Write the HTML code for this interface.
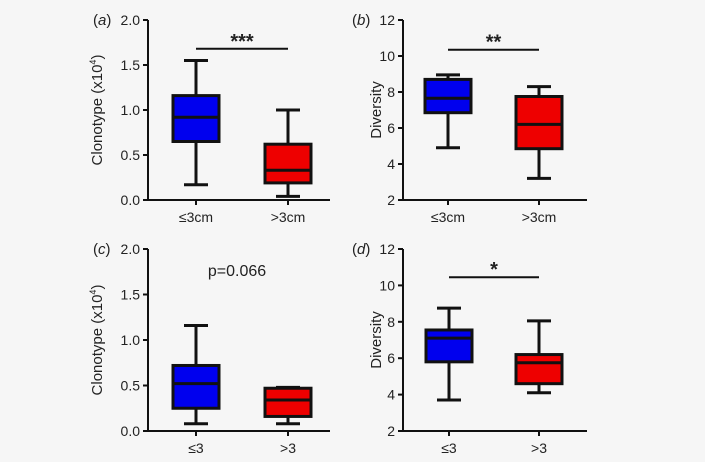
<!DOCTYPE html>
<html><head><meta charset="utf-8"><style>
body{margin:0;background:#f6f6f6;}
svg{display:block;font-family:"Liberation Sans",sans-serif;}
</style></head><body>
<svg id="c" width="705" height="462"></svg>
<script>
const panelLetters=["a","b","c","d"];
const groupLabels=[["≤3cm",">3cm"],["≤3cm",">3cm"],["≤3",">3"],["≤3",">3"]];
const yTicksClono=[0,0.5,1.0,1.5,2.0];
const yTicksDiv=[2,4,6,8,10,12];
// [whiskerLow, q1, median, q3, whiskerHigh]
const aBlue=[0.17,0.65,0.92,1.16,1.55], aRed=[0.04,0.19,0.33,0.62,1.0];
const bBlue=[4.9,6.85,7.65,8.7,8.95], bRed=[3.2,4.85,6.2,7.75,8.3];
const cBlue=[0.08,0.25,0.52,0.72,1.16], cRed=[0.08,0.16,0.34,0.47,0.48];
const dBlue=[3.7,5.8,7.1,7.55,8.75], dRed=[4.1,4.6,5.75,6.2,8.05];
const sigLabels=["***","**",null,"*"];
const sigLevels=[1.68,10.35,null,10.45];
const pText="p=0.066";

const svg=document.getElementById('c');
const NS="http://www.w3.org/2000/svg";
function mk(tag,attrs,parent){const e=document.createElementNS(NS,tag);for(const k in attrs)e.setAttribute(k,attrs[k]);(parent||svg).appendChild(e);return e;}
function fmt(v,clono){return clono?v.toFixed(1):String(v);}
const panels=[
 {ax:148,top:20,bot:200,ticks:yTicksClono,data:[aBlue,aRed],c1:196,c2:288,end:330,clono:true},
 {ax:403,top:20,bot:200,ticks:yTicksDiv,data:[bBlue,bRed],c1:448,c2:539,end:587,clono:false},
 {ax:148,top:249,bot:431,ticks:yTicksClono,data:[cBlue,cRed],c1:196,c2:288,end:330,clono:true},
 {ax:403,top:249,bot:431,ticks:yTicksDiv,data:[dBlue,dRed],c1:449,c2:539,end:587,clono:false}
];
panels.forEach((p,i)=>{
 const g=mk('g',{});
 
 
 const lo=p.ticks[0],hi=p.ticks[p.ticks.length-1];
 const y=v=>p.bot-(v-lo)/(hi-lo)*(p.bot-p.top);
 const ya=mk('line',{x1:p.ax,y1:p.top,x2:p.ax,y2:p.bot,stroke:'#111','stroke-width':2},g);
 
 const xa=mk('line',{x1:p.ax,y1:p.bot,x2:p.end,y2:p.bot,stroke:'#111','stroke-width':2},g);
 
 p.ticks.forEach(t=>{
  mk('line',{x1:p.ax-5,y1:y(t),x2:p.ax,y2:y(t),stroke:'#111','stroke-width':2},g);
  const tl=mk('text',{x:p.ax-8,y:y(t)+5,'text-anchor':'end','font-size':14,fill:'#222'},g);
  tl.textContent=fmt(t,p.clono);
  
 });
 const yl=mk('text',{x:0,y:0,'text-anchor':'middle','font-size':15,fill:'#222',transform:`translate(${p.clono?102:381},${(p.top+p.bot)/2}) rotate(-90)`},g);
 
 if(p.clono){yl.innerHTML='Clonotype (x10<tspan font-size="9" dy="-6">4</tspan><tspan dy="6">)</tspan>';}else yl.textContent='Diversity';
 const pl=mk('text',{x:p.clono?93:352,y:p.top+5,'font-size':15,fill:'#222'},g);
 pl.innerHTML='(<tspan font-style="italic">'+panelLetters[i]+'</tspan>)';
 
 [p.c1,p.c2].forEach((cx,j)=>{
  const d=p.data[j];
  const bg=mk('g',{},g);
  
  
  mk('line',{x1:cx,y1:y(d[0]),x2:cx,y2:y(d[4]),stroke:'#111','stroke-width':3},bg);
  mk('line',{x1:cx-12,y1:y(d[0]),x2:cx+12,y2:y(d[0]),stroke:'#111','stroke-width':3},bg);
  mk('line',{x1:cx-12,y1:y(d[4]),x2:cx+12,y2:y(d[4]),stroke:'#111','stroke-width':3},bg);
  mk('rect',{x:cx-23,y:y(d[3]),width:46,height:y(d[1])-y(d[3]),fill:j?'#ee0000':'#0000ee',stroke:'#111','stroke-width':3},bg);
  mk('line',{x1:cx-23,y1:y(d[2]),x2:cx+23,y2:y(d[2]),stroke:'#111','stroke-width':3},bg);
  mk('line',{x1:cx,y1:p.bot,x2:cx,y2:p.bot+5,stroke:'#111','stroke-width':2},g);
  const xl=mk('text',{x:cx,y:p.bot+22,'text-anchor':'middle','font-size':14,fill:'#222'},g);
  xl.textContent=groupLabels[i][j];
  
 });
 if(sigLabels[i]){
  const sb=mk('line',{x1:p.c1,y1:y(sigLevels[i]),x2:p.c2,y2:y(sigLevels[i]),stroke:'#111','stroke-width':2},g);
  
  const st=mk('text',{x:(p.c1+p.c2)/2,y:y(sigLevels[i])-1,'text-anchor':'middle','font-size':20,'font-weight':'bold',fill:'#222'},g);
  st.textContent=sigLabels[i];
  
 } else {
  const pt=mk('text',{x:(p.c1+p.c2)/2-5,y:276,'text-anchor':'middle','font-size':16,fill:'#222'},g);
  pt.textContent=pText;
  
 }
});
</script>
</body></html>
